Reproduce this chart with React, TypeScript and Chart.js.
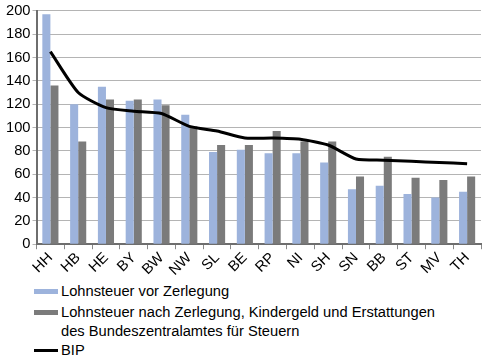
import React, { useEffect, useRef } from "react";
import { Chart, registerables } from "chart.js";

Chart.register(...registerables);

const categories = ["HH", "HB", "HE", "BY", "BW", "NW", "SL", "BE", "RP", "NI", "SH", "SN", "BB", "ST", "MV", "TH"];
const lohnsteuerVor = [197, 120, 135, 123, 124, 111, 79, 81, 78, 78, 70, 47, 50, 43, 40, 45];
const lohnsteuerNach = [136, 88, 124, 124, 119, 101, 85, 85, 97, 88, 88, 58, 75, 57, 55, 58];
const bip = [165, 130, 117, 114, 112, 101, 97, 91, 91, 90, 85, 73, 72, 71, 70, 69];

const seriesLabels = [
  "Lohnsteuer vor Zerlegung",
  "Lohnsteuer nach Zerlegung, Kindergeld und Erstattungen",
  "des Bundeszentralamtes für Steuern",
  "BIP",
];

const yMin = 0;
const yMax = 200;
const yStep = 20;

const FONT = "'Liberation Sans', Arial, Helvetica, sans-serif";
const LIGHT = "#9db3dc";
const DARK = "#7b7b7b";

export default function App() {
  const ref = useRef<HTMLCanvasElement | null>(null);

  useEffect(() => {
    if (!ref.current) return;
    const chart = new Chart(ref.current, {
      type: "bar",
      data: {
        labels: categories,
        datasets: [
          {
            type: "bar",
            label: seriesLabels[0],
            data: lohnsteuerVor,
            backgroundColor: LIGHT,
            borderWidth: 0,
            categoryPercentage: 0.58,
            barPercentage: 1.0,
            order: 2,
          },
          {
            type: "bar",
            label: seriesLabels[1],
            data: lohnsteuerNach,
            backgroundColor: DARK,
            borderWidth: 0,
            categoryPercentage: 0.58,
            barPercentage: 1.0,
            order: 2,
          },
          {
            type: "line",
            label: seriesLabels[3],
            data: bip,
            borderColor: "#000000",
            borderWidth: 3,
            pointRadius: 0,
            tension: 0.2,
            fill: false,
            order: 0,
          } as any,
        ],
      },
      options: {
        responsive: true,
        maintainAspectRatio: false,
        animation: false,
        layout: { padding: { left: 4, right: 3, top: 7, bottom: 0 } },
        plugins: {
          legend: { display: false },
          tooltip: { enabled: false },
        },
        scales: {
          x: {
            offset: true,
            grid: {
              display: true,
              offset: true,
              drawOnChartArea: false,
              drawTicks: true,
              tickLength: 5,
              color: "#8a8a8a",
            },
            border: { display: true, color: "#6e6e6e", width: 2 },
            ticks: {
              color: "#000",
              font: { family: FONT, size: 14.7 },
              minRotation: 45,
              maxRotation: 45,
              autoSkip: false,
              padding: 0,
            },
          },
          y: {
            min: yMin,
            max: yMax,
            grid: {
              color: "#b4b4b4",
              lineWidth: 1,
              tickLength: 4,
              drawTicks: true,
            },
            border: { display: true, color: "#6e6e6e", width: 2 },
            ticks: {
              stepSize: yStep,
              color: "#000",
              font: { family: FONT, size: 14.7 },
              padding: 2,
            },
          },
        },
      },
    });
    return () => chart.destroy();
  }, []);

  const legendText: React.CSSProperties = {
    fontFamily: FONT,
    fontSize: 14.7,
    color: "#000",
    lineHeight: "19px",
    whiteSpace: "nowrap",
  };

  return (
    <div style={{ position: "fixed", left: 0, top: 0, width: 484, height: 362, background: "#fff", overflow: "hidden" }}>
      <div style={{ position: "absolute", left: 0, top: 0, width: 484, height: 279 }}>
        <canvas ref={ref} />
      </div>
      <div style={{ position: "absolute", left: 34, top: 282, width: 450 }}>
        <div style={{ display: "flex", alignItems: "center", height: 19 }}>
          <div style={{ width: 24, height: 5, background: LIGHT, marginRight: 3 }} />
          <span style={legendText}>{seriesLabels[0]}</span>
        </div>
        <div style={{ display: "flex", alignItems: "flex-start", marginTop: 2 }}>
          <div style={{ width: 24, height: 5, background: DARK, marginRight: 3, marginTop: 7 }} />
          <div style={legendText}>
            <div>{seriesLabels[1]}</div>
            <div>{seriesLabels[2]}</div>
          </div>
        </div>
        <div style={{ display: "flex", alignItems: "center", height: 19 }}>
          <div style={{ width: 24, height: 3, background: "#000", marginRight: 3 }} />
          <span style={legendText}>{seriesLabels[3]}</span>
        </div>
      </div>
    </div>
  );
}
